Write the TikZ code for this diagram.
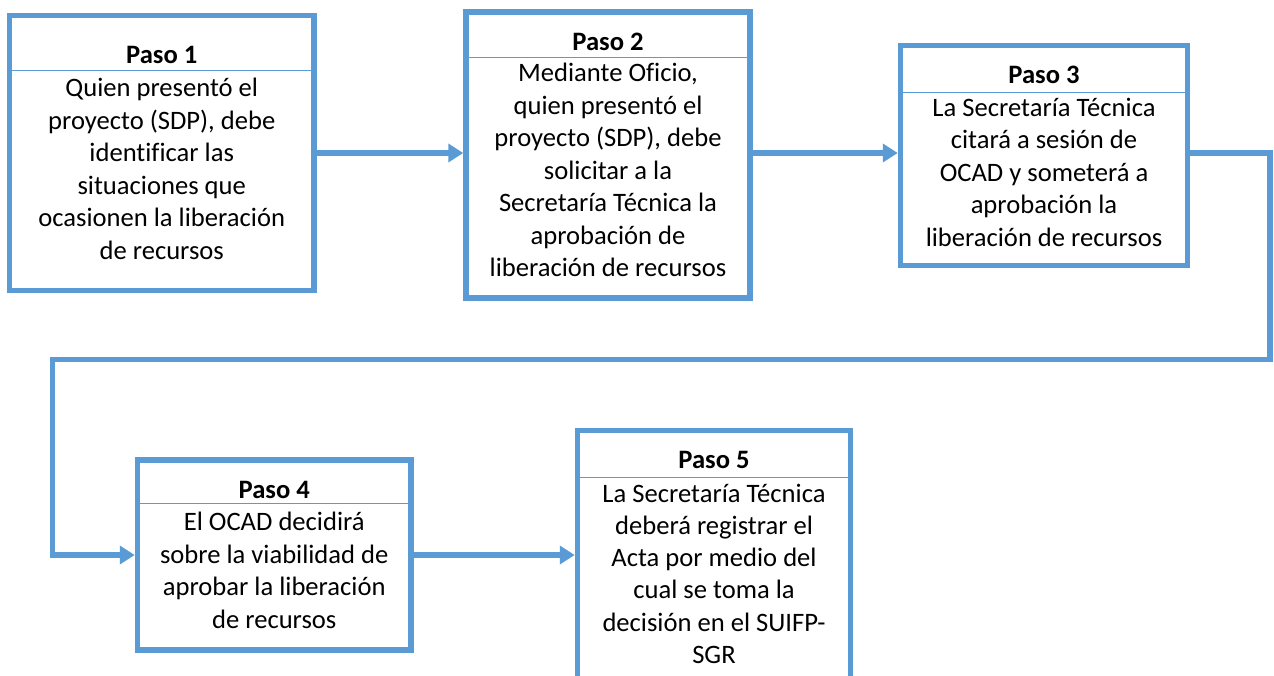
\documentclass[tikz,border=0pt]{standalone}
\usepackage{fontspec}
\setmainfont{Carlito}[Ligatures=NoCommon]
\usetikzlibrary{arrows.meta}
\definecolor{stepblue}{HTML}{5B9BD5}
\begin{document}
\begin{tikzpicture}[x=1pt,y=-1pt,
  stepbox/.style={draw=stepblue, line width=5.5pt, rectangle, inner sep=0pt, line join=miter},
  sepline/.style={draw=stepblue, line width=1pt},
  conn/.style={draw=stepblue, line width=5.5pt, line join=miter, -{Triangle[length=15pt,width=18pt]}},
  head/.style={font=\fontsize{26.6}{32.5}\selectfont\bfseries, inner sep=0pt, anchor=base},
  body/.style={font=\fontsize{26.6}{32.5}\selectfont, inner sep=0pt, anchor=north, align=center}]
\useasboundingbox (0,0) rectangle (1274,675);
\clip (0,0) rectangle (1274,675);
\fill[white] (0,0) rectangle (1274,675);
% boxes
\node[stepbox, minimum width=304.5pt, minimum height=275pt] (b1) at (161.75,153) {};
\node[stepbox, minimum width=284pt, minimum height=286pt] (b2) at (608,155) {};
\node[stepbox, minimum width=287pt, minimum height=220pt] (b3) at (1044,155.5) {};
\node[stepbox, minimum width=273.5pt, minimum height=190pt] (b4) at (274.25,555) {};
\node[stepbox, minimum width=273pt, minimum height=299.5pt] (b5) at (714,580.25) {};
% separators
\coordinate (s1) at (0,70);
\coordinate (s2) at (0,57);
\coordinate (s3) at (0,92);
\coordinate (s4) at (0,503);
\coordinate (s5) at (0,477);
\draw[sepline] (b1.west |- s1) -- (b1.east |- s1);
\draw[sepline] (b2.west |- s2) -- (b2.east |- s2);
\draw[sepline] (b3.west |- s3) -- (b3.east |- s3);
\draw[sepline] (b4.west |- s4) -- (b4.east |- s4);
\draw[sepline] (b5.west |- s5) -- (b5.east |- s5);
% headers
\node[head] (h1) at (161.75,63) {Paso 1};
\node[head] (h2) at (608,50) {Paso 2};
\node[head] (h3) at (1044,83) {Paso 3};
\node[head] (h4) at (274.25,498) {Paso 4};
\node[head] (h5) at (714,468) {Paso 5};
% bodies
\node[body] (t1) at (161.75,74) {\strut Quien presentó el\\proyecto (SDP), debe\\identificar las\\situaciones que\\ocasionen la liberación\\de recursos};
\node[body] (t2) at (608,59) {\strut Mediante Oficio,\\quien presentó el\\proyecto (SDP), debe\\solicitar a la\\Secretaría Técnica la\\aprobación de\\liberación de recursos};
\node[body] (t3) at (1044,93.25) {\strut La Secretaría Técnica\\citará a sesión de\\OCAD y someterá a\\aprobación la\\liberación de recursos};
\node[body] (t4) at (274.25,507.75) {\strut El OCAD decidirá\\sobre la viabilidad de\\aprobar la liberación\\de recursos};
\node[body, font=\fontsize{26.6}{32.3}\selectfont] (t5) at (714,479.25) {\strut La Secretaría Técnica\\deberá registrar el\\Acta por medio del\\cual se toma la\\decisión en el SUIFP-\\SGR};
% connectors
\coordinate (row) at (0,153);
\coordinate (c1) at (1270,153);
\coordinate (c2) at (1270,359.5);
\coordinate (c3) at (52.5,359.5);
\draw[conn] (b1.east |- row) -- (b2.west |- row);
\draw[conn] (b2.east |- row) -- (b3.west |- row);
\draw[conn] (b3.east |- row) -- (c1) -- (c2) -- (c3) |- (b4.west);
\draw[conn] (b4.east) -- (b5.west |- b4.east);
\end{tikzpicture}
\end{document}
